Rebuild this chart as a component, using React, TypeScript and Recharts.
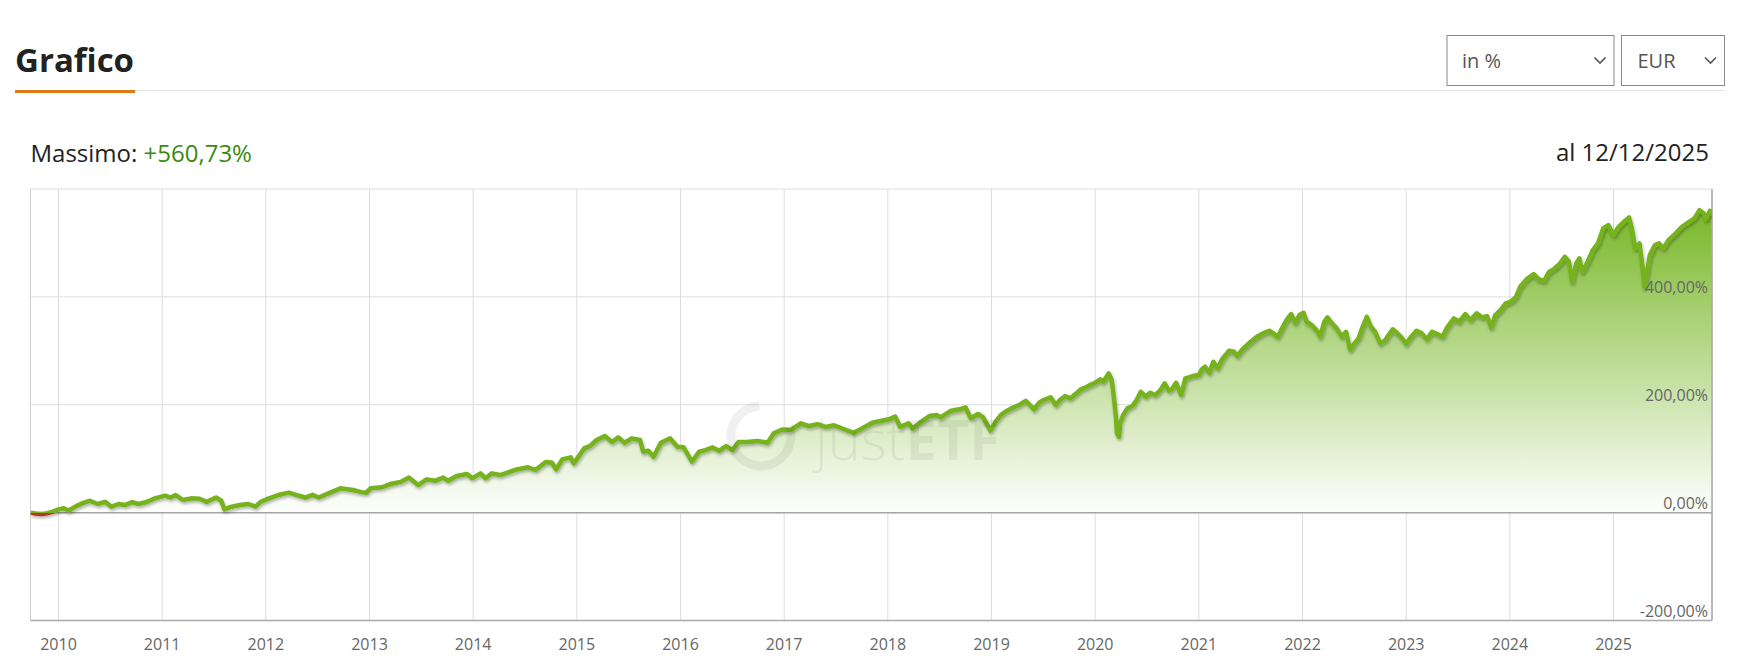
import React from "react";
import {
  ComposedChart,
  Area,
  Line,
  XAxis,
  YAxis,
  CartesianGrid,
  ReferenceLine,
} from "recharts";

// [decimal year, performance in %]
const seg2009to2012: [number, number][] = [
  [2009.73, 0], [2009.78, -1.5], [2009.84, -2.5], [2009.89, -1], [2009.94, 1.5],
  [2010.0, 6], [2010.05, 8], [2010.1, 4], [2010.17, 12], [2010.24, 18], [2010.3, 22],
  [2010.38, 16], [2010.45, 20], [2010.51, 11], [2010.58, 16], [2010.64, 14], [2010.71, 19.6],
  [2010.77, 16], [2010.85, 19.6], [2010.93, 26.5], [2011.03, 31.4], [2011.08, 28], [2011.13, 32.6],
  [2011.2, 23.4], [2011.28, 26.5], [2011.36, 25.8], [2011.43, 20], [2011.52, 28], [2011.57, 22],
  [2011.6, 6], [2011.67, 11], [2011.75, 14], [2011.83, 16], [2011.9, 11], [2011.95, 20],
  [2012.03, 26.5], [2012.12, 32.6], [2012.22, 37], [2012.3, 32.6], [2012.38, 28], [2012.45, 33],
  [2012.51, 28], [2012.62, 37], [2012.72, 45], [2012.84, 42], [2012.92, 38], [2012.97, 37],
];

const seg2013to2016: [number, number][] = [
  [2013.01, 45], [2013.12, 47], [2013.2, 53], [2013.3, 57], [2013.38, 65], [2013.47, 51],
  [2013.55, 61.7], [2013.63, 59], [2013.71, 65], [2013.76, 59], [2013.84, 68], [2013.94, 71.5],
  [2013.99, 63.6], [2014.07, 72.8], [2014.12, 63.6], [2014.18, 72.8], [2014.26, 69.7], [2014.33, 74],
  [2014.42, 80], [2014.53, 84], [2014.6, 79], [2014.7, 94], [2014.76, 92.5], [2014.8, 80],
  [2014.86, 98.8], [2014.94, 102.5], [2014.97, 91], [2015.07, 119], [2015.13, 124], [2015.19, 134.6],
  [2015.27, 142], [2015.34, 131], [2015.4, 139.5], [2015.46, 129.6], [2015.53, 137.7], [2015.61, 134.6],
  [2015.64, 113], [2015.69, 114.7], [2015.74, 103.6], [2015.81, 129.6], [2015.9, 137.7], [2015.97, 122],
  [2016.03, 121], [2016.11, 94.4], [2016.18, 113], [2016.24, 116], [2016.31, 121], [2016.37, 114.7],
  [2016.44, 123.5], [2016.5, 116], [2016.56, 131], [2016.64, 131], [2016.74, 133], [2016.84, 129.6],
  [2016.9, 147], [2016.98, 154],
];

const seg2017to2020: [number, number][] = [
  [2017.06, 153], [2017.16, 165.5], [2017.24, 160.5], [2017.32, 164], [2017.4, 159], [2017.48, 162],
  [2017.56, 156], [2017.67, 148], [2017.75, 156], [2017.85, 166.6], [2017.93, 170], [2018.01, 173],
  [2018.07, 178], [2018.12, 159], [2018.2, 165.5], [2018.24, 156], [2018.32, 168.5], [2018.4, 179],
  [2018.47, 181], [2018.51, 176.6], [2018.61, 189], [2018.69, 191.5], [2018.75, 195], [2018.8, 175],
  [2018.87, 183], [2018.92, 176.6], [2018.96, 162], [2018.99, 152], [2019.04, 168.5], [2019.09, 181],
  [2019.15, 189], [2019.21, 195], [2019.28, 201], [2019.33, 207.4], [2019.38, 197.6], [2019.41, 191.5],
  [2019.46, 203.7], [2019.5, 208.7], [2019.57, 213.7], [2019.62, 199.4], [2019.66, 208.7], [2019.71, 216],
  [2019.76, 211.8], [2019.81, 219.8], [2019.86, 228.5], [2019.91, 232.2], [2019.95, 236.5], [2020.0, 240.8],
  [2020.05, 247], [2020.08, 242.6], [2020.13, 258.2], [2020.16, 245.8], [2020.18, 214.8], [2020.2, 177.8],
  [2020.21, 147], [2020.23, 140.7], [2020.24, 165.5], [2020.27, 181], [2020.31, 193.3], [2020.36, 197.6],
  [2020.4, 208.7], [2020.44, 224], [2020.49, 214.8], [2020.53, 222.3], [2020.58, 218], [2020.63, 227.3],
  [2020.67, 239.7], [2020.71, 226], [2020.74, 228.5], [2020.78, 240.8], [2020.83, 218], [2020.87, 249],
  [2020.94, 253.2], [2021.0, 255],
];

const seg2021to2025: [number, number][] = [
  [2021.03, 266], [2021.06, 270.5], [2021.1, 259.4], [2021.14, 279.7], [2021.18, 267.5], [2021.23, 286],
  [2021.29, 300], [2021.34, 298.2], [2021.37, 290.3], [2021.42, 302.7], [2021.5, 316.8], [2021.56, 326],
  [2021.63, 333.5], [2021.68, 337.2], [2021.72, 332.3], [2021.76, 326], [2021.81, 344.6], [2021.85, 358.3],
  [2021.89, 368.1], [2021.93, 352], [2021.97, 366.3], [2022.01, 370.5], [2022.04, 353.9], [2022.09, 347.7],
  [2022.14, 337.2], [2022.17, 326], [2022.21, 353.9], [2022.24, 362], [2022.28, 352], [2022.33, 341.6],
  [2022.38, 326], [2022.42, 335.3], [2022.46, 301.4], [2022.5, 313.8], [2022.54, 323], [2022.58, 344.6],
  [2022.62, 363.1], [2022.66, 344.6], [2022.7, 335.3], [2022.75, 313.8], [2022.8, 320], [2022.83, 329.2],
  [2022.87, 339.8], [2022.91, 333.5], [2022.95, 326], [2023.0, 312.5], [2023.04, 324], [2023.1, 337],
  [2023.15, 332.3], [2023.2, 321.2], [2023.25, 335.3], [2023.3, 331], [2023.35, 326], [2023.39, 341.6],
  [2023.46, 360.2], [2023.51, 353.9], [2023.57, 368.1], [2023.62, 357], [2023.68, 369.4], [2023.73, 362],
  [2023.78, 364.4], [2023.82, 343.5], [2023.86, 366.3], [2023.91, 375.5], [2023.96, 388], [2024.01, 391],
  [2024.06, 400.2], [2024.1, 418.7], [2024.16, 432.4], [2024.23, 442.3], [2024.28, 432.4], [2024.33, 429.9],
  [2024.38, 446.6], [2024.42, 451], [2024.48, 460.8], [2024.53, 474.3], [2024.57, 465.1], [2024.6, 428],
  [2024.64, 462.1], [2024.67, 471.4], [2024.7, 446.6], [2024.75, 465.1], [2024.8, 486.7], [2024.85, 499.2],
  [2024.9, 527], [2024.95, 533.1], [2025.0, 514.6], [2025.05, 530], [2025.1, 539.2], [2025.15, 547.3],
  [2025.18, 523.8], [2025.21, 489.9], [2025.25, 499.2], [2025.28, 455.8], [2025.3, 417.6], [2025.32, 443.6],
  [2025.35, 477.5], [2025.4, 496], [2025.44, 499.2], [2025.48, 489.9], [2025.53, 505.3], [2025.6, 517.7],
  [2025.66, 530], [2025.73, 539.2], [2025.78, 545.5], [2025.83, 560.7], [2025.87, 554.8], [2025.89, 543.7],
  [2025.93, 559.6], [2025.95, 551.6],
];

const yearTicks = [2010, 2011, 2012, 2013, 2014, 2015, 2016, 2017, 2018, 2019, 2020, 2021, 2022, 2023, 2024, 2025];
const pctTicks = [-200, 0, 200, 400, 600];
const xStart = 2009.73;
const xEnd = 2025.95;

const data = [...seg2009to2012, ...seg2013to2016, ...seg2017to2020, ...seg2021to2025].map(([t, v]) => ({ t, v }));

const maxV = Math.max(...data.map((d) => d.v));
const minV = Math.min(...data.map((d) => d.v));
const zeroOffset = maxV / (maxV - minV);

const FONT = "'Open Sans', sans-serif";

const fmtPct = (v: number) => v.toFixed(2).replace(".", ",") + "%";

const YearTick = (props: any) => {
  const { x, y, payload } = props;
  return (
    <text x={x} y={y + 29} textAnchor="middle" fontSize={16} fill="#666" fontFamily={FONT}>
      {payload.value}
    </text>
  );
};

const PctTick = (props: any) => {
  const { y, payload, viewBox } = props;
  if (payload.value === 600) return <g />;
  // labels sit inside the plot, right-aligned against its right border
  const right = viewBox ? viewBox.x + viewBox.width : props.x;
  return (
    <text x={right - 2} y={y - 4} textAnchor="end" fontSize={16} fill="#666" fontFamily={FONT}>
      {fmtPct(payload.value)}
    </text>
  );
};

const Header = () => (
  <svg width={1746} height={669} style={{ position: "absolute", left: 0, top: 0 }}>
    <text x={15} y={71.5} fontSize={33} fontWeight={700} fill="#222" fontFamily={FONT}>
      Grafico
    </text>
    <line x1={15} y1={90.5} x2={1724} y2={90.5} stroke="#e3e3e3" strokeWidth={1} />
    <rect x={15} y={90} width={120} height={3} fill="#e07a17" />

    <rect x={1447} y={35.5} width={167} height={50} fill="#fff" stroke="#8a8a8a" strokeWidth={1} />
    <text x={1462} y={68} fontSize={20} fill="#555" fontFamily={FONT}>in %</text>
    <polyline points="1594.5,57.5 1600,63 1605.5,57.5" fill="none" stroke="#555" strokeWidth={1.6} />

    <rect x={1621.5} y={35.5} width={103} height={50} fill="#fff" stroke="#8a8a8a" strokeWidth={1} />
    <text x={1637.5} y={68} fontSize={20} fill="#555" fontFamily={FONT}>EUR</text>
    <polyline points="1705,57.5 1710.5,63 1716,57.5" fill="none" stroke="#555" strokeWidth={1.6} />

    <text x={30.5} y={161.5} fontSize={24} fill="#222" fontFamily={FONT}>
      Massimo: <tspan fill="#3a8a12">+560,73%</tspan>
    </text>
    <text x={1709} y={161} fontSize={24} fill="#222" textAnchor="end" fontFamily={FONT}>
      al 12/12/2025
    </text>
  </svg>
);

const Watermark = () => (
  <svg width={1746} height={669} style={{ position: "absolute", left: 0, top: 0, pointerEvents: "none" }}>
    <circle
      cx={761}
      cy={436}
      r={30}
      fill="none"
      stroke="rgba(0,0,0,0.06)"
      strokeWidth={9}
      strokeDasharray="150 38"
      transform="rotate(-20 761 436)"
    />
    <text x={815} y={460} fontSize={56} fill="rgba(0,0,0,0.06)" fontFamily={FONT}>
      <tspan fontWeight={300}>just</tspan>
      <tspan fontWeight={700}>ETF</tspan>
    </text>
  </svg>
);

export default function App() {
  return (
    <div style={{ position: "absolute", left: 0, top: 0, width: 1746, height: 669, background: "#fff" }}>
      <Header />
      <div style={{ position: "absolute", left: 0, top: 0 }}>
        <ComposedChart
          width={1746}
          height={669}
          data={data}
          margin={{ top: 189, right: 34, bottom: 8.5, left: 30.5 }}
        >
          <defs>
            <linearGradient id="areaFill" x1="0" y1="0" x2="0" y2="1">
              <stop offset="0%" stopColor="#7ab82a" stopOpacity={1} />
              <stop offset="100%" stopColor="#ffffff" stopOpacity={1} />
            </linearGradient>
            <linearGradient id="lineSplit" x1="0" y1="0" x2="0" y2="1">
              <stop offset={0} stopColor="#74b21b" />
              <stop offset={zeroOffset} stopColor="#74b21b" />
              <stop offset={zeroOffset} stopColor="#c0301e" />
              <stop offset={1} stopColor="#c0301e" />
            </linearGradient>
            <filter id="lineShadow" x="-2%" y="-5%" width="104%" height="115%">
              <feDropShadow dx="1" dy="2" stdDeviation="1.4" floodColor="#000" floodOpacity="0.3" />
            </filter>
          </defs>
          <CartesianGrid stroke="#dedede" strokeWidth={1} />
          <XAxis
            dataKey="t"
            type="number"
            domain={[xStart, xEnd]}
            ticks={yearTicks}
            allowDataOverflow
            height={40}
            tickSize={0}
            tickMargin={0}
            tickLine={false}
            axisLine={{ stroke: "#a9a9a9", strokeWidth: 1.5 }}
            tick={<YearTick />}
          />
          <YAxis
            type="number"
            orientation="right"
            mirror
            width={1}
            domain={[-200, 600]}
            ticks={pctTicks}
            allowDataOverflow
            tickSize={0}
            tickMargin={2}
            tickLine={false}
            axisLine={false}
            tick={<PctTick />}
          />
          <ReferenceLine x={xStart} stroke="#cfcfcf" strokeWidth={1} />
          <ReferenceLine x={xEnd} stroke="#a9a9a9" strokeWidth={1.5} />
          <Area
            dataKey="v"
            type="linear"
            baseValue={0}
            stroke="none"
            fill="url(#areaFill)"
            fillOpacity={1}
            dot={false}
            activeDot={false}
            isAnimationActive={false}
          />
          <ReferenceLine y={0} stroke="#a5a5a5" strokeWidth={1.5} />
          <Line
            dataKey="v"
            type="linear"
            stroke="url(#lineSplit)"
            strokeWidth={4.5}
            strokeLinejoin="round"
            dot={false}
            activeDot={false}
            filter="url(#lineShadow)"
            isAnimationActive={false}
          />
        </ComposedChart>
      </div>
      <Watermark />
    </div>
  );
}
